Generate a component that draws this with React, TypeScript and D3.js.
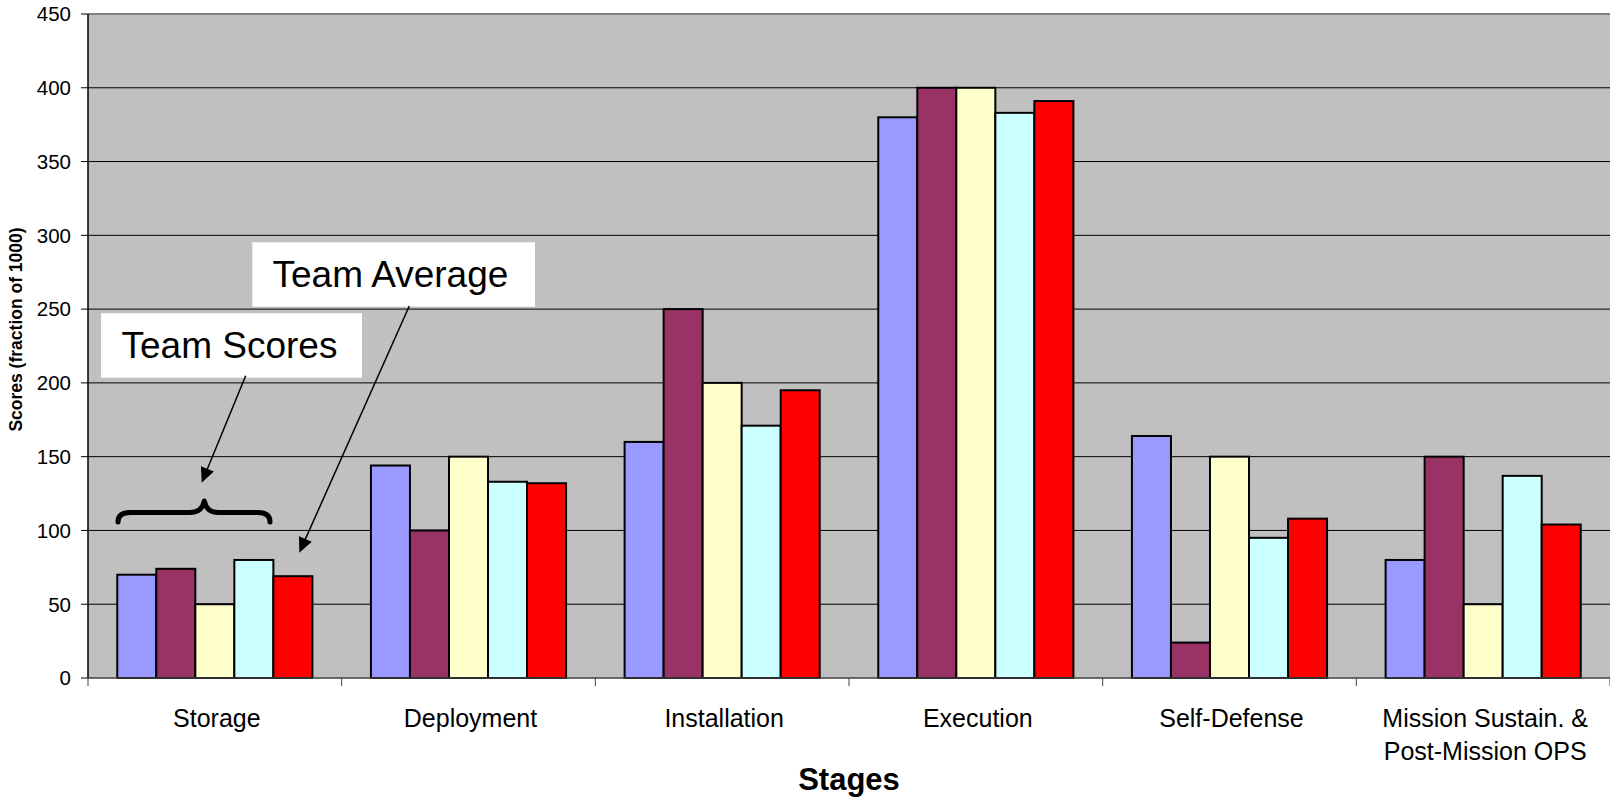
import React from "react";
import * as d3 from "d3";

// Stages along the x axis
const stages = [
  "Storage",
  "Deployment",
  "Installation",
  "Execution",
  "Self-Defense",
  "Mission Sustain. &\nPost-Mission OPS",
];

// Per-team scores for each stage (fraction of 1000)
const team1 = [70, 144, 160, 380, 164, 80];
const team2 = [74, 100, 250, 400, 24, 150];
const team3 = [50, 150, 200, 400, 150, 50];
const team4 = [80, 133, 171, 383, 95, 137];
const teamAverage = [69, 132, 195, 391, 108, 104];

const seriesNames = ["Team 1", "Team 2", "Team 3", "Team 4", "Team Average"];
const seriesValues = [team1, team2, team3, team4, teamAverage];
const seriesColors = ["#9999FF", "#993366", "#FFFFCC", "#CCFFFF", "#FF0000"];

const yTicks = [0, 50, 100, 150, 200, 250, 300, 350, 400, 450];

const W = 1610;
const H = 797;
const FONT = "'Liberation Sans', Arial, Helvetica, sans-serif";

const plot = { left: 88, right: 1610, top: 14, bottom: 678 };

function arrowHead(x0: number, y0: number, x1: number, y1: number, len = 15, half = 7) {
  const dx = x1 - x0;
  const dy = y1 - y0;
  const d = Math.hypot(dx, dy);
  const ux = dx / d;
  const uy = dy / d;
  const bx = x1 - ux * len;
  const by = y1 - uy * len;
  const px = -uy * half;
  const py = ux * half;
  return `M${x1},${y1} L${bx + px},${by + py} L${bx - px},${by - py} Z`;
}

export default function App() {
  const y = d3.scaleLinear().domain([0, 450]).range([plot.bottom, plot.top]);
  const gap = 1.5 / 6.5;
  const x = d3
    .scaleBand<string>()
    .domain(stages)
    .range([plot.left, plot.right])
    .paddingInner(gap)
    .paddingOuter(gap / 2);
  const xs = d3
    .scaleBand<string>()
    .domain(seriesNames)
    .range([0, x.bandwidth()]);
  const step = x.step();

  // Annotation geometry
  const scoresArrow = { x0: 245.7, y0: 375.7, x1: 201.7, y1: 482.7 };
  const avgArrow = { x0: 409.3, y0: 306, x1: 299.3, y1: 552.7 };

  return (
    <svg
      width={W}
      height={H}
      style={{ position: "absolute", left: 0, top: 0, background: "#fff" }}
      fontFamily={FONT}
    >
      {/* plot area */}
      <rect
        x={plot.left}
        y={plot.top}
        width={plot.right - plot.left}
        height={plot.bottom - plot.top}
        fill="#C0C0C0"
      />
      <line x1={plot.left} x2={plot.right} y1={plot.top} y2={plot.top} stroke="#808080" strokeWidth={2} />

      {/* gridlines */}
      {yTicks
        .filter((t) => t > 0 && t < 450)
        .map((t) => (
          <line
            key={"g" + t}
            x1={plot.left}
            x2={plot.right}
            y1={y(t)}
            y2={y(t)}
            stroke="#000"
            strokeWidth={1}
          />
        ))}

      {/* bars */}
      {stages.map((s, i) => (
        <g key={s} transform={`translate(${x(s)},0)`}>
          {seriesNames.map((n, j) => (
            <rect
              key={n}
              x={xs(n)}
              y={y(seriesValues[j][i])}
              width={xs.bandwidth()}
              height={y(0) - y(seriesValues[j][i])}
              fill={seriesColors[j]}
              stroke="#000"
              strokeWidth={2}
            />
          ))}
        </g>
      ))}

      {/* y axis */}
      <line x1={plot.left} x2={plot.left} y1={plot.top} y2={plot.bottom} stroke="#000" strokeWidth={1.5} />
      {yTicks.map((t) => (
        <g key={"t" + t}>
          <line x1={plot.left - 7} x2={plot.left} y1={y(t)} y2={y(t)} stroke="#000" strokeWidth={1} />
          <text
            x={71}
            y={y(t)}
            dy="0.36em"
            textAnchor="end"
            fontSize={20.5}
            fill="#000"
          >
            {t}
          </text>
        </g>
      ))}

      {/* x axis */}
      <line x1={plot.left} x2={plot.right} y1={plot.bottom} y2={plot.bottom} stroke="#404040" strokeWidth={1.5} />
      {d3.range(stages.length + 1).map((k) => (
        <line
          key={"xt" + k}
          x1={plot.left + k * step}
          x2={plot.left + k * step}
          y1={plot.bottom}
          y2={plot.bottom + 8}
          stroke="#404040"
          strokeWidth={1}
        />
      ))}
      {stages.map((s) => {
        const cx = (x(s) as number) + x.bandwidth() / 2;
        const lines = s.split("\n");
        return (
          <text key={"l" + s} x={cx + 2} y={727} textAnchor="middle" fontSize={25} fill="#000">
            {lines.map((ln, k) => (
              <tspan key={k} x={cx + 2} dy={k === 0 ? 0 : 33}>
                {ln}
              </tspan>
            ))}
          </text>
        );
      })}

      {/* axis titles */}
      <text x={849} y={790} textAnchor="middle" fontSize={31} fontWeight="bold" fill="#000">
        Stages
      </text>
      <text
        transform={`translate(22,${329.5}) rotate(-90)`}
        textAnchor="middle"
        fontSize={17.5}
        fontWeight="bold"
        fill="#000"
      >
        Scores (fraction of 1000)
      </text>

      {/* annotations */}
      <rect x={101} y={313.3} width={261} height={64.4} fill="#fff" />
      <text x={121.5} y={358.3} fontSize={37} fill="#000">
        Team Scores
      </text>
      <rect x={252.3} y={242.3} width={282.7} height={64.4} fill="#fff" />
      <text x={272.5} y={286.7} fontSize={37} fill="#000">
        Team Average
      </text>

      <line
        x1={scoresArrow.x0}
        y1={scoresArrow.y0}
        x2={scoresArrow.x1 + (scoresArrow.x0 - scoresArrow.x1) * 0.1}
        y2={scoresArrow.y1 + (scoresArrow.y0 - scoresArrow.y1) * 0.1}
        stroke="#000"
        strokeWidth={1.5}
      />
      <path d={arrowHead(scoresArrow.x0, scoresArrow.y0, scoresArrow.x1, scoresArrow.y1)} fill="#000" />
      <line
        x1={avgArrow.x0}
        y1={avgArrow.y0}
        x2={avgArrow.x1 + (avgArrow.x0 - avgArrow.x1) * 0.04}
        y2={avgArrow.y1 + (avgArrow.y0 - avgArrow.y1) * 0.04}
        stroke="#000"
        strokeWidth={1.5}
      />
      <path d={arrowHead(avgArrow.x0, avgArrow.y0, avgArrow.x1, avgArrow.y1)} fill="#000" />

      {/* curly brace over the first stage's bars */}
      <path
        d="M118,522 Q118,512.5 130,512.5 L190,512.5 Q202,512.5 204.3,501 Q206.6,512.5 218,512.5 L258,512.5 Q270,512.5 270,522"
        fill="none"
        stroke="#000"
        strokeWidth={5}
        strokeLinecap="round"
        strokeLinejoin="round"
      />
    </svg>
  );
}
